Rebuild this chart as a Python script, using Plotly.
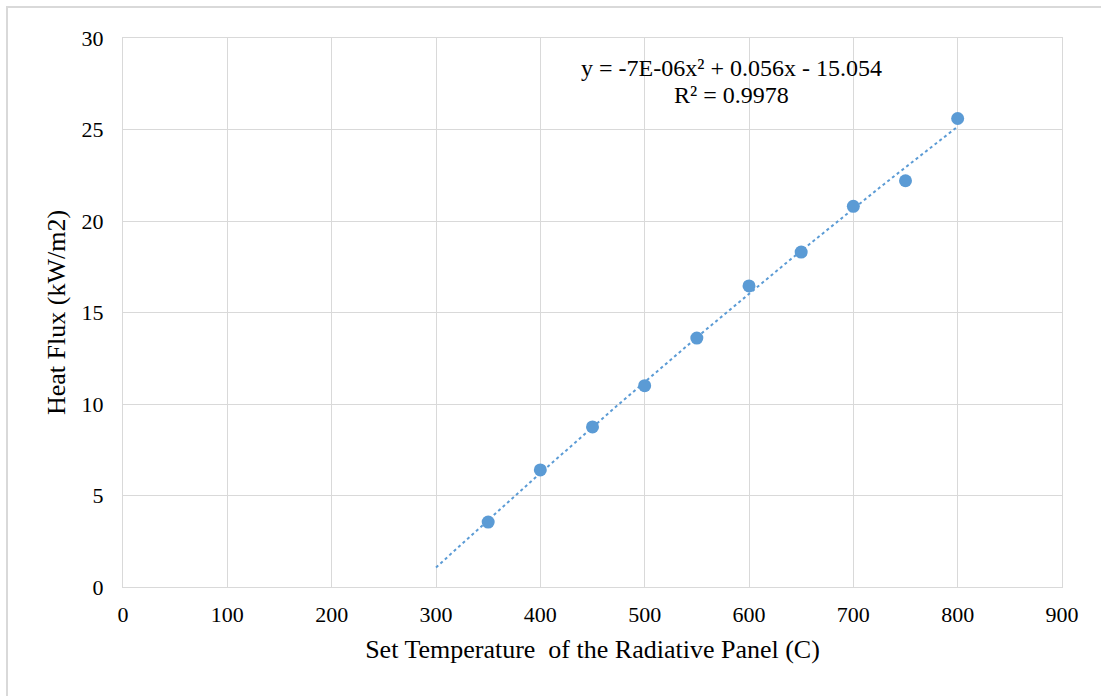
import numpy as np
import plotly.graph_objects as go

# Data
temps = [350, 400, 450, 500, 550, 600, 650, 700, 750, 800]
heat_flux = [3.55, 6.4, 8.75, 11.0, 13.6, 16.45, 18.3, 20.8, 22.2, 25.6]
x_ticks = [0, 100, 200, 300, 400, 500, 600, 700, 800, 900]
y_ticks = [0, 5, 10, 15, 20, 25, 30]
trend_range = [300, 800]
eq_text = "y = -7E-06x² + 0.056x - 15.054"
r2_text = "R² = 0.9978"

# Polynomial (order 2) trendline fitted to the data
coef = np.polyfit(temps, heat_flux, 2)
tx = np.linspace(trend_range[0], trend_range[1], 101)
ty = np.polyval(coef, tx)

color = "#5B9BD5"
grid = "#D9D9D9"
font_family = "Liberation Serif, Times New Roman, serif"

W, H = 1101, 696
L, R, T, B = 123, 39, 38, 109

fig = go.Figure()
fig.add_trace(go.Scatter(x=tx, y=ty, mode="lines",
                         line=dict(color=color, width=2, dash="dot"),
                         hoverinfo="skip", showlegend=False))
fig.add_trace(go.Scatter(x=temps, y=heat_flux, mode="markers",
                         marker=dict(color=color, size=13),
                         showlegend=False))

pw = W - L - R
ph = H - T - B
# outer chart border (top & left visible)
fig.add_shape(type="rect", xref="paper", yref="paper",
              x0=(7 - L) / pw, x1=(W + 20 - L) / pw,
              y0=1 - (H + 20 - T) / ph, y1=1 + (T - 7) / ph,
              line=dict(color="#D9D9D9", width=2), layer="below")

fig.add_annotation(x=583, y=28.36, xref="x", yref="y", text=eq_text,
                   showarrow=False, font=dict(family=font_family, size=24, color="#000"))
fig.add_annotation(x=583, y=26.89, xref="x", yref="y", text=r2_text,
                   showarrow=False, font=dict(family=font_family, size=24, color="#000"))

fig.update_layout(
    width=W, height=H,
    margin=dict(l=L, r=R, t=T, b=B),
    paper_bgcolor="white", plot_bgcolor="white",
    font=dict(family=font_family, size=22, color="#000"),
    xaxis=dict(range=[0, 900], tickvals=x_ticks, showgrid=True, gridcolor=grid, gridwidth=1,
               showline=True, linecolor=grid, linewidth=1, mirror=True, zeroline=False,
               ticks="", ticklen=0, tickfont=dict(size=22), ticklabelstandoff=8,
               title=dict(text="Set Temperature  of the Radiative Panel (C)",
                          font=dict(size=26), standoff=13)),
    yaxis=dict(range=[0, 30], tickvals=y_ticks, showgrid=True, gridcolor=grid, gridwidth=1,
               showline=True, linecolor=grid, linewidth=1, mirror=True, zeroline=False,
               ticks="", tickfont=dict(size=22), ticklabelstandoff=14,
               title=dict(text="Heat Flux (kW/m2)", font=dict(size=26), standoff=8)),
)

fig.write_html("out.html")
